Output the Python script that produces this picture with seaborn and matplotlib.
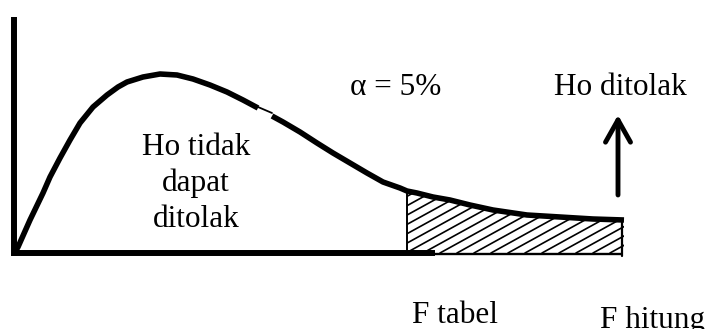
import matplotlib
matplotlib.use("Agg")
import matplotlib.pyplot as plt
import numpy as np
import pandas as pd
import seaborn as sns

sns.set_style("white")
plt.rcParams["font.family"] = ["Liberation Serif", "DejaVu Serif"]
plt.rcParams["text.color"] = "black"

# F curve: x in px from the left edge, y = height above the baseline
# (the hand-drawn curve has a thin notch between the two pieces)
left_x = [15, 18, 30, 43, 50, 60, 70, 80, 93, 107, 118, 127, 143, 160, 177, 193, 210, 227, 243, 258]
left_y = [1, 6, 33, 60, 76, 95, 113, 130, 146, 158, 166, 171, 176, 179, 178, 174, 168, 161, 153, 145]
right_x = [272, 283, 300, 317, 333, 350, 367, 383, 400, 407, 417, 433, 450, 470, 493, 527, 560, 593, 624]
right_y = [137, 131, 121, 110, 100, 90, 80, 71, 65, 62, 60, 56, 53, 48, 43, 38, 36, 34, 33]

f_tabel = 407
f_hitung = 622
axis_x = 14
axis_top = 236
thick_base_end = 435

accept_lines = ["Ho tidak", "dapat", "ditolak"]
accept_pos = (196, [98, 62, 26])
alpha_label = "α = 5%"
reject_label = "Ho ditolak"
tick_labels = ["F tabel", "F hitung"]

FS = 22.5

fig = plt.figure(figsize=(7.08, 3.29), dpi=100)
ax = fig.add_axes([0, 0, 1, 1])
ax.set_xlim(0, 708)
ax.set_ylim(-76, 253)
ax.axis("off")

# axes of the sketch
ax.plot([axis_x, axis_x], [-3, axis_top], color="black", lw=4.3, solid_capstyle="butt")
ax.plot([axis_x - 2, thick_base_end], [0, 0], color="black", lw=4.3, solid_capstyle="butt")
ax.plot([thick_base_end, f_hitung], [-1, -1], color="black", lw=1.7, solid_capstyle="butt")

# rejection area with shallow hatching
tail = pd.DataFrame({"x": right_x, "y": right_y})
tail = tail[tail["x"] >= f_tabel]
poly = ax.fill_between(tail["x"], 0, tail["y"], color="white", lw=0)
slope = 0.55
for x0 in np.arange(f_tabel - 120, f_hitung + 10, 17):
    ln, = ax.plot([x0, x0 + 300], [0, slope * 300], color="black", lw=1.2)
    ln.set_clip_path(poly.get_paths()[0], ax.transData)
ax.plot([f_tabel, f_tabel], [0, tail["y"].iloc[0]], color="black", lw=1.4)
ax.plot([f_hitung, f_hitung], [-3, tail["y"].iloc[-1]], color="black", lw=1.6)

# the curve
seg1 = pd.DataFrame({"x": left_x, "y": left_y})
seg2 = pd.DataFrame({"x": right_x, "y": right_y})
for seg in (seg1, seg2):
    sns.lineplot(data=seg, x="x", y="y", sort=False, estimator=None, ax=ax,
                 color="black", lw=4, solid_capstyle="butt", solid_joinstyle="round")
# thin notch joining the two pieces
ax.plot([left_x[-1], right_x[0]], [left_y[-1] + 1, right_y[0] + 3], color="black", lw=1.3)

# arrow for rejecting Ho
ax.annotate("", xy=(618, 138), xytext=(618, 58),
            arrowprops=dict(arrowstyle="->,head_length=0.8,head_width=0.45",
                            lw=3.5, color="black", mutation_scale=20,
                            shrinkA=0, shrinkB=0))

# labels
for line, yy in zip(accept_lines, accept_pos[1]):
    ax.text(accept_pos[0], yy, line, ha="center", va="baseline", fontsize=FS, color="black")
ax.text(396, 158, alpha_label, ha="center", va="baseline", fontsize=FS, color="black")
ax.text(620, 158, reject_label, ha="center", va="baseline", fontsize=FS, color="black")
ax.text(455, -70, tick_labels[0], ha="center", va="baseline", fontsize=FS, color="black")
ax.text(653, -75, tick_labels[1], ha="center", va="baseline", fontsize=FS, color="black")

plt.savefig("out.png", dpi=100)
plt.close()
